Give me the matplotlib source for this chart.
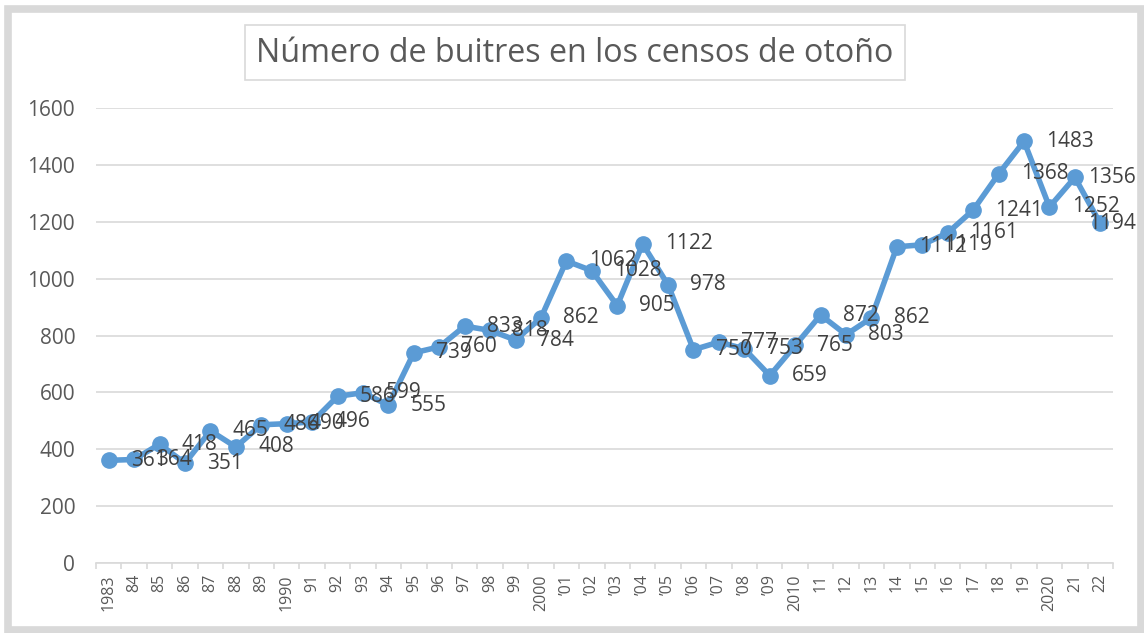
import numpy as np
import matplotlib.pyplot as plt
from matplotlib.patches import Rectangle

# census data (autumn counts)
years = ['1983', '84', '85', '86', '87', '88', '89', '1990', '91', '92',
         '93', '94', '95', '96', '97', '98', '99', '2000', "\u201901", "\u201902",
         "\u201903", "\u201904", "\u201905", "\u201906", "\u201907", "\u201908", "\u201909", '2010', '11', '12',
         '13', '14', '15', '16', '17', '18', '19', '2020', '21', '22']
buitres = [361, 364, 418, 351, 465, 408, 486, 490, 496, 586,
           599, 555, 739, 760, 833, 818, 784, 862, 1062, 1028,
           905, 1122, 978, 750, 777, 753, 659, 765, 872, 803,
           862, 1112, 1119, 1161, 1241, 1368, 1483, 1252, 1356, 1194]
yticks = [0, 200, 400, 600, 800, 1000, 1200, 1400, 1600]

W, H = 1144, 633
plt.rcParams['font.family'] = ['Open Sans', 'DejaVu Sans']

fig = plt.figure(figsize=(W / 100, H / 100), dpi=100)

def fx(px):
    return px / W

def fy(py):
    return 1 - py / H

# outer frame
fig.add_artist(Rectangle((fx(8), fy(629.5)), fx(1141) - fx(8), fy(8.5) - fy(629.5),
                         transform=fig.transFigure, fill=False,
                         edgecolor='#d9d9d9', linewidth=5.5))

ax = fig.add_axes([fx(96), fy(563), fx(1113) - fx(96), fy(108) - fy(563)])
x = np.arange(len(years))

ax.plot(x, buitres, color='#5b9bd5', linewidth=4, marker='o',
        markersize=11, zorder=3, clip_on=False)

labels = []
for xi, v in zip(x, buitres):
    t = ax.annotate(str(v), (xi, v), xytext=(16, 0), textcoords='offset points',
                    ha='left', va='center', fontsize=15, color='#404040',
                    zorder=4, annotation_clip=False)
    labels.append(t)

ax.set_xlim(-0.5, len(years) - 0.5)
ax.set_ylim(0, 1600)
ax.set_yticks(yticks)
ax.set_yticklabels([str(t) for t in yticks], fontsize=15, color='#595959')
ax.set_xticks(x)
ax.set_xticklabels(years, rotation=90, fontsize=11.5, color='#595959')
ax.set_xticks(np.arange(len(years) + 1) - 0.5, minor=True)
ax.tick_params(axis='x', which='major', length=0, pad=8)
ax.tick_params(axis='x', which='minor', length=4, color='#d9d9d9', width=1.2)
ax.tick_params(axis='y', length=0, pad=15)

ax.grid(axis='y', color='#d9d9d9', linewidth=1.2)
ax.set_axisbelow(True)
for side in ['top', 'right', 'left']:
    ax.spines[side].set_visible(False)
ax.spines['bottom'].set_color('#d9d9d9')
ax.spines['bottom'].set_linewidth(1.2)

# keep data labels inside the chart area, like Excel does
fig.canvas.draw()
renderer = fig.canvas.get_renderer()
for t in labels:
    bb = t.get_window_extent(renderer)
    if bb.x1 > 1136:
        shift = (bb.x1 - 1136) * 72 / 100
        t.xyann = (16 - shift, 0)

# title box
fig.add_artist(Rectangle((fx(245), fy(80)), fx(905) - fx(245), fy(25) - fy(80),
                         transform=fig.transFigure, facecolor='white',
                         edgecolor='#d9d9d9', linewidth=1.2))
fig.text(fx(575), fy(53), 'Número de buitres en los censos de otoño',
         ha='center', va='center', fontsize=23.2, color='#595959')

fig.savefig('out.png', dpi=100)
